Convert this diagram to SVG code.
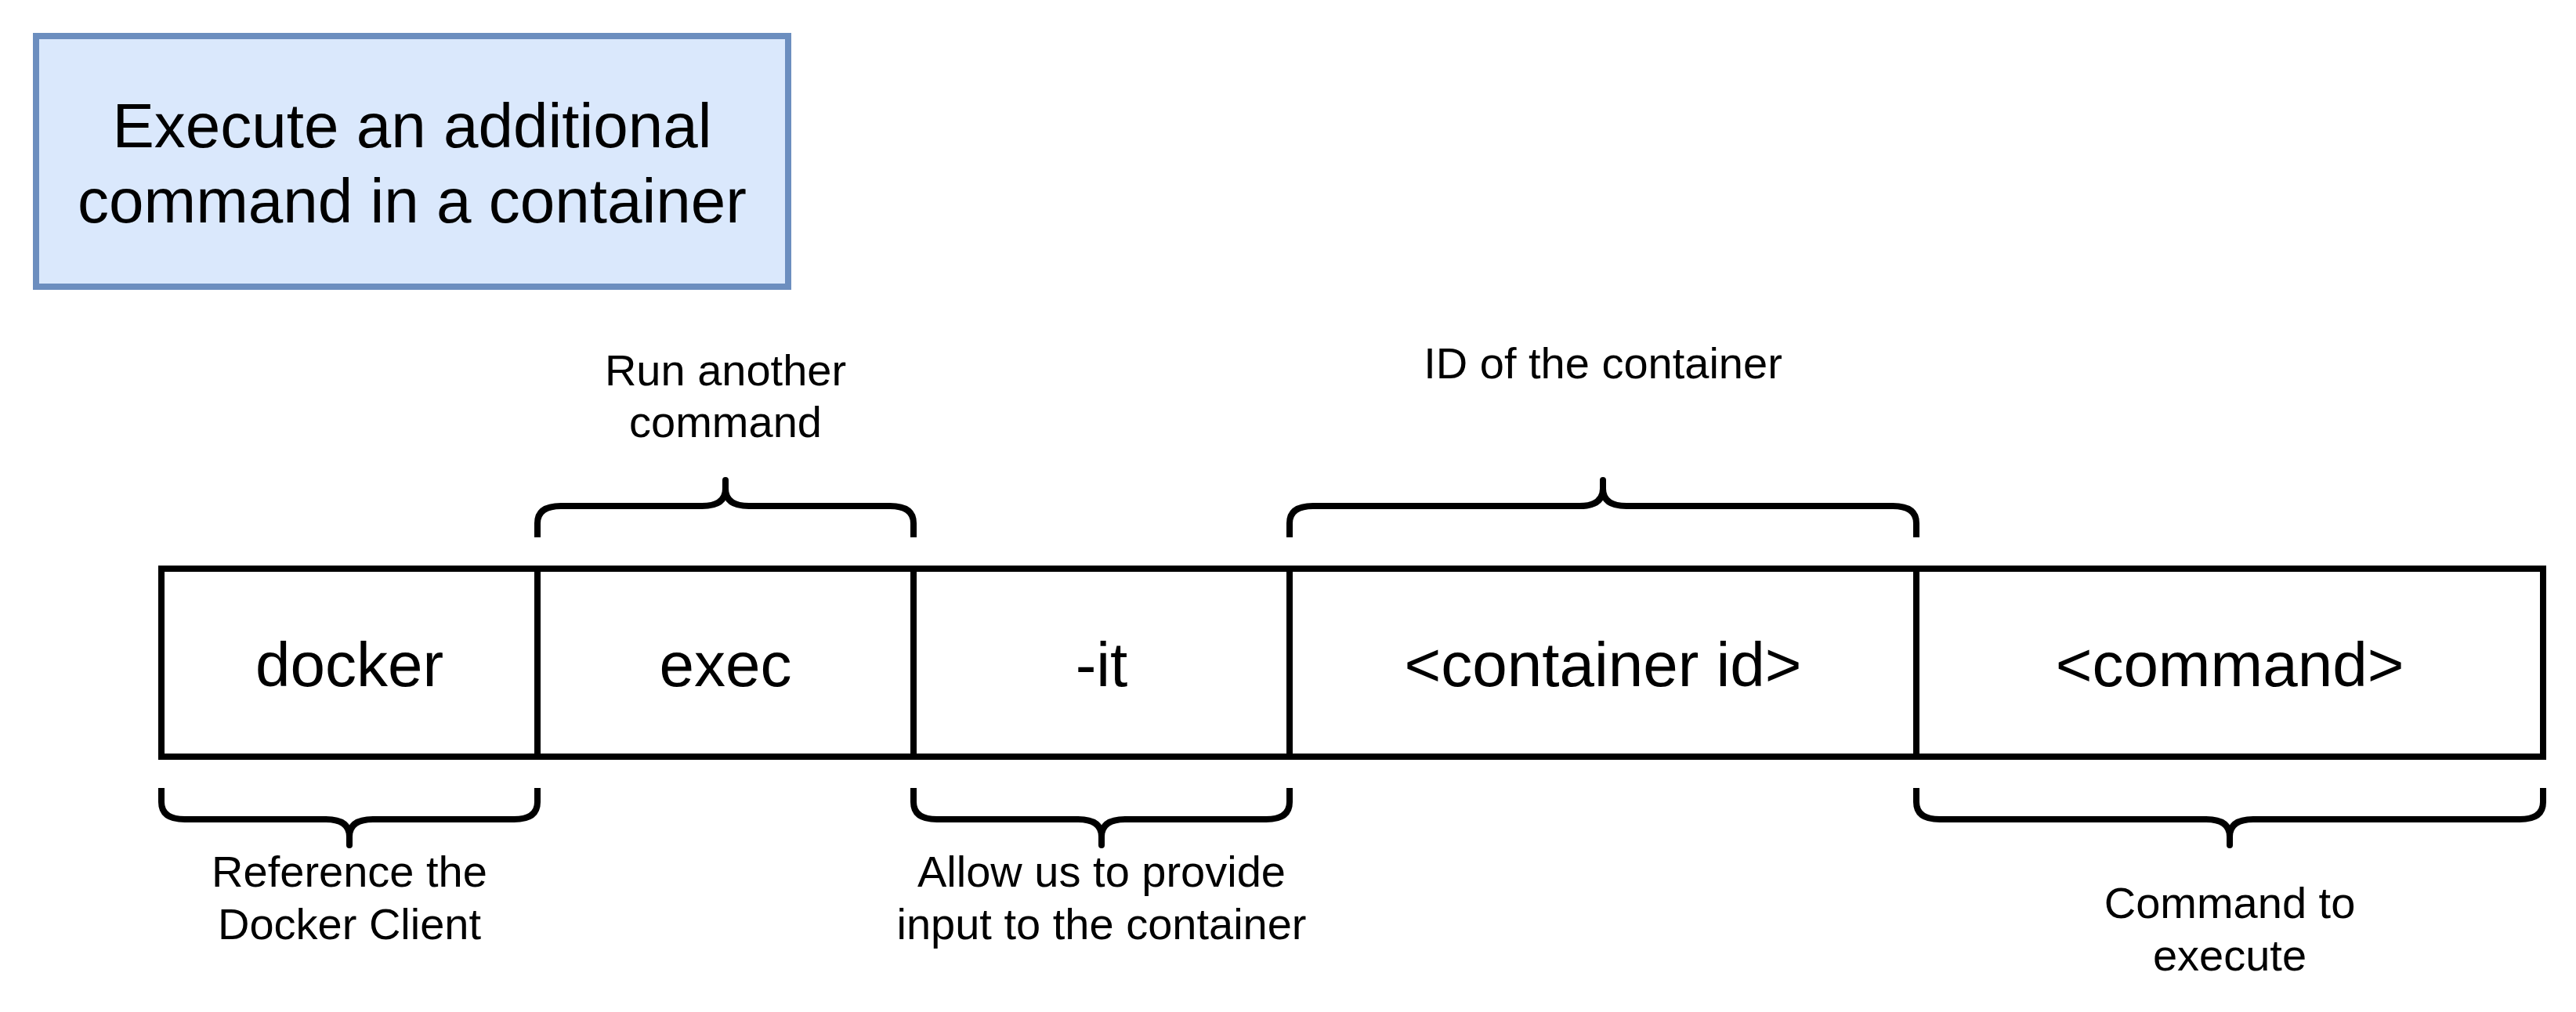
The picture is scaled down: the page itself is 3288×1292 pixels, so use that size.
<svg xmlns="http://www.w3.org/2000/svg" width="3288" height="1292" viewBox="0 0 3288 1292">
  <style>
    .bg { fill: #ffffff; }
    .title { fill: #dae8fc; stroke: #6c8ebf; stroke-width: 8; }
    .cell { fill: #ffffff; stroke: #000000; stroke-width: 8; }
    .brace { fill: none; stroke: #000000; stroke-width: 8; stroke-linejoin: round; stroke-linecap: butt; }
    text { font-family: "Liberation Sans", Arial, Helvetica, sans-serif; fill: #000000; text-anchor: middle; }
    .big { font-size: 80px; }
    .lbl { font-size: 56px; }
  </style>
  <rect class="bg" x="0" y="0" width="3288" height="1292"/>

  <g id="title">
    <rect class="title" x="46" y="46" width="960" height="320"/>
    <text class="big" x="526" y="188">Execute an additional</text>
    <text class="big" x="526" y="284">command in a container</text>
  </g>

  <g id="cell-docker">
    <rect class="cell" x="206" y="726" width="480" height="240"/>
    <text class="big" x="446" y="876">docker</text>
  </g>
  <g id="cell-exec">
    <rect class="cell" x="686" y="726" width="480" height="240"/>
    <text class="big" x="926" y="876">exec</text>
  </g>
  <g id="cell-it">
    <rect class="cell" x="1166" y="726" width="480" height="240"/>
    <text class="big" x="1406" y="876">-it</text>
  </g>
  <g id="cell-container-id">
    <rect class="cell" x="1646" y="726" width="800" height="240"/>
    <text class="big" x="2046" y="876">&lt;container id&gt;</text>
  </g>
  <g id="cell-command">
    <rect class="cell" x="2446" y="726" width="800" height="240"/>
    <text class="big" x="2846" y="876">&lt;command&gt;</text>
  </g>

  <g id="brace-exec">
    <path class="brace" d="M686 686 L686 668 Q686 646 716 646 L896 646 Q926 646 926 624 L926 613 L926 624 Q926 646 956 646 L1136 646 Q1166 646 1166 668 L1166 686"/>
    <text class="lbl" x="926" y="492">Run another</text>
    <text class="lbl" x="926" y="558">command</text>
  </g>
  <g id="brace-container-id">
    <path class="brace" d="M1646 686 L1646 668 Q1646 646 1676 646 L2016 646 Q2046 646 2046 624 L2046 613 L2046 624 Q2046 646 2076 646 L2416 646 Q2446 646 2446 668 L2446 686"/>
    <text class="lbl" x="2046" y="483">ID of the container</text>
  </g>
  <g id="brace-docker">
    <path class="brace" d="M206 1006 L206 1024 Q206 1046 236 1046 L416 1046 Q446 1046 446 1068 L446 1079 L446 1068 Q446 1046 476 1046 L656 1046 Q686 1046 686 1024 L686 1006"/>
    <text class="lbl" x="446" y="1132">Reference the</text>
    <text class="lbl" x="446" y="1199">Docker Client</text>
  </g>
  <g id="brace-it">
    <path class="brace" d="M1166 1006 L1166 1024 Q1166 1046 1196 1046 L1376 1046 Q1406 1046 1406 1068 L1406 1079 L1406 1068 Q1406 1046 1436 1046 L1616 1046 Q1646 1046 1646 1024 L1646 1006"/>
    <text class="lbl" x="1406" y="1132">Allow us to provide</text>
    <text class="lbl" x="1406" y="1199">input to the container</text>
  </g>
  <g id="brace-command">
    <path class="brace" d="M2446 1006 L2446 1024 Q2446 1046 2476 1046 L2816 1046 Q2846 1046 2846 1068 L2846 1079 L2846 1068 Q2846 1046 2876 1046 L3216 1046 Q3246 1046 3246 1024 L3246 1006"/>
    <text class="lbl" x="2846" y="1172">Command to</text>
    <text class="lbl" x="2846" y="1239">execute</text>
  </g>

  <g id="connectors"/>
</svg>
